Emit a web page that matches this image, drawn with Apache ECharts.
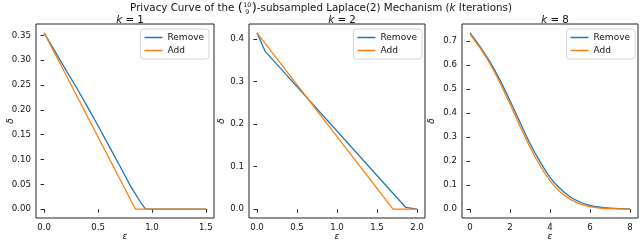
<!DOCTYPE html>
<html><head><meta charset="utf-8">
<script src="https://cdn.jsdelivr.net/npm/echarts@6/dist/echarts.min.js"></script>
<style>html,body{margin:0;padding:0;background:#fff}#c{width:640px;height:243px}</style>
</head><body><div id="c"></div>
<script>
// ---- data ----
const k1X = [0, 0.1, 0.2, 0.3, 0.4, 0.5, 0.6, 0.7, 0.8, 0.9, 0.93, 0.95, 1.5];
const k1Remove = [0.355, 0.318, 0.281, 0.245, 0.207, 0.168, 0.128, 0.088, 0.047, 0.012, 0.003, 0.0, 0.0];
const k1AddX = [0, 0.847, 1.5];
const k1Add = [0.355, 0.0, 0.0];

const k2RemoveX = [0, 0.1, 1.86, 1.885, 2.0];
const k2Remove = [0.415, 0.372, 0.004, 0.0, 0.0];
const k2AddX = [0, 1.7, 2.0];
const k2Add = [0.415, 0.0, 0.0];

const k8X = [0, 0.5, 1, 1.5, 2, 2.5, 3, 3.5, 4, 4.5, 5, 5.5, 6, 6.5, 7, 7.5, 8];
const k8Remove = [0.735, 0.678, 0.614, 0.538, 0.452, 0.362, 0.274, 0.198, 0.133, 0.086, 0.052, 0.030, 0.016, 0.008, 0.004, 0.002, 0.001];
const k8Add = [0.730, 0.672, 0.606, 0.526, 0.438, 0.346, 0.258, 0.182, 0.119, 0.073, 0.042, 0.022, 0.011, 0.005, 0.002, 0.001, 0.0];

const k1XTicks = [0, 0.5, 1.0, 1.5];
const k1YTicks = [0, 0.05, 0.10, 0.15, 0.20, 0.25, 0.30, 0.35];
const k2XTicks = [0, 0.5, 1.0, 1.5, 2.0];
const k2YTicks = [0, 0.1, 0.2, 0.3, 0.4];
const k8XTicks = [0, 2, 4, 6, 8];
const k8YTicks = [0, 0.1, 0.2, 0.3, 0.4, 0.5, 0.6, 0.7];

const panelTitles = ['1', '2', '8'];
const seriesNames = ['Remove', 'Add'];
const titleLeft = 'Privacy Curve of the ';
const binomTop = '10';
const binomBottom = '9';
const titleRight = '-subsampled Laplace(2) Mechanism (';
const titleK = 'k';
const titleEnd = ' Iterations)';

// ---- layout ----
const FONT = 'DejaVu Sans';
const TXT = '#111';
const BLUE = '#1f77b4', ORANGE = '#ff7f0e';
const grids = [
  {left: 36, top: 24, width: 178, height: 194},
  {left: 249, top: 24, width: 176, height: 194},
  {left: 462, top: 24, width: 176, height: 194}
];
const xr = [[-0.075, 1.575], [-0.1, 2.1], [-0.4, 8.4]];
const yr = [[-0.01775, 0.37275], [-0.02075, 0.43575], [-0.03675, 0.77175]];
const xt = [k1XTicks, k2XTicks, k8XTicks];
const yt = [k1YTicks, k2YTicks, k8YTicks];
const xd = [1, 1, 0];
const yd = [2, 1, 1];
const yNameGap = [21, 23, 26];
const legendRight = [431, 218, 5];

const zip = (xs, ys) => xs.map((x, i) => [x, ys[i]]);
const seriesData = [
  [zip(k1X, k1Remove), zip(k1AddX, k1Add)],
  [zip(k2RemoveX, k2Remove), zip(k2AddX, k2Add)],
  [zip(k8X, k8Remove), zip(k8X, k8Add)]
];

const axisCommon = {
  axisLine: {show: false},
  splitLine: {show: false},
  nameMoveOverlap: false,
  axisTick: {show: true, inside: false, length: 3.5, lineStyle: {color: '#222', width: 1}},
  axisLabel: {fontFamily: FONT, fontSize: 8.6, color: TXT}
};

const xAxis = [], yAxis = [], series = [], legend = [], title = [];
for (let i = 0; i < 3; i++) {
  xAxis.push(Object.assign({}, axisCommon, {
    type: 'value', gridIndex: i, min: xr[i][0], max: xr[i][1],
    name: 'ε', nameLocation: 'middle', nameGap: 14,
    nameTextStyle: {fontFamily: FONT, fontSize: 9, fontStyle: 'italic', color: TXT},
    axisTick: Object.assign({}, axisCommon.axisTick, {customValues: xt[i]}),
    axisLabel: Object.assign({}, axisCommon.axisLabel, {customValues: xt[i], margin: 5,
      formatter: (v) => v.toFixed(xd[i])})
  }));
  yAxis.push(Object.assign({}, axisCommon, {
    type: 'value', gridIndex: i, min: yr[i][0], max: yr[i][1],
    name: 'δ', nameLocation: 'middle', nameGap: yNameGap[i], nameRotate: 90,
    nameTextStyle: {fontFamily: FONT, fontSize: 9, fontStyle: 'italic', color: TXT},
    axisTick: Object.assign({}, axisCommon.axisTick, {customValues: yt[i]}),
    axisLabel: Object.assign({}, axisCommon.axisLabel, {customValues: yt[i], margin: 5,
      formatter: (v) => v.toFixed(yd[i])})
  }));
  seriesNames.forEach((nm, j) => {
    series.push({
      type: 'line', name: nm, xAxisIndex: i, yAxisIndex: i,
      data: seriesData[i][j], showSymbol: false, symbol: 'none',
      smooth: i === 2 ? 0.3 : false, animation: false,
      lineStyle: {color: j === 0 ? BLUE : ORANGE, width: 1.3},
      itemStyle: {color: j === 0 ? BLUE : ORANGE},
      z: j === 0 ? 2 : 3
    });
  });
  legend.push({
    data: seriesNames, orient: 'vertical', right: legendRight[i], top: 29,
    icon: 'rect', itemWidth: 18, itemHeight: 1.5, itemGap: 2,
    padding: [3, 5, 3, 4], borderColor: '#d5d5d5', borderWidth: 1, borderRadius: 3,
    backgroundColor: 'rgba(255,255,255,0.85)',
    textStyle: {fontFamily: FONT, fontSize: 9, color: TXT, lineHeight: 11}
  });
  title.push({
    text: '{i|k} = ' + panelTitles[i],
    left: grids[i].left + grids[i].width / 2, top: 10, textAlign: 'center',
    textStyle: {fontFamily: FONT, fontSize: 10.3, fontWeight: 'normal', color: TXT,
      rich: {i: {fontFamily: FONT, fontSize: 10.3, fontStyle: 'italic', color: TXT}}}
  });
}

// main title with binomial coefficient, composed from text pieces
const ctx = document.createElement('canvas').getContext('2d');
const TF = 10.3;
function w(t, style, size) { ctx.font = (style || '') + ' ' + (size || TF) + 'px "' + FONT + '"'; return ctx.measureText(t).width; }
const PF = 13;
const wp = w('(', '', PF);
const binW = 9;
const wl = w(titleLeft), wr = w(titleRight), wk = w(titleK, 'italic'), we = w(titleEnd);
const total = wl + wp + binW + wp + wr + wk + we;
let x0 = 321 - total / 2;
const cy = 8.5;
const tstyle = {fontFamily: FONT, fontSize: TF, fill: TXT};
function T(x, t, extra) { return {type: 'text', x: x, y: cy, style: Object.assign({}, tstyle, {text: t, textVerticalAlign: 'middle'}, extra || {})}; }
let x = x0;
const graphic = [];
graphic.push(T(x, titleLeft)); x += wl;
graphic.push(T(x, '(', {fontSize: PF})); x += wp;
graphic.push({type: 'text', x: x + binW / 2, y: cy - 3.2, style: Object.assign({}, tstyle, {text: binomTop, fontSize: 6.3, textAlign: 'center', textVerticalAlign: 'middle'})});
graphic.push({type: 'text', x: x + binW / 2, y: cy + 3.6, style: Object.assign({}, tstyle, {text: binomBottom, fontSize: 6.3, textAlign: 'center', textVerticalAlign: 'middle'})});
x += binW;
graphic.push(T(x, ')', {fontSize: PF})); x += wp;
graphic.push(T(x, titleRight)); x += wr;
graphic.push(T(x, titleK, {fontStyle: 'italic'})); x += wk;
graphic.push(T(x, titleEnd));

const chart = echarts.init(document.getElementById('c'), null, {renderer: 'canvas'});
chart.setOption({
  animation: false,
  backgroundColor: '#fff',
  title: title,
  legend: legend,
  graphic: graphic,
  grid: grids.map(g => Object.assign({show: true, borderColor: '#222', borderWidth: 1, backgroundColor: 'transparent', containLabel: false, outerBoundsMode: 'none'}, g)),
  xAxis: xAxis, yAxis: yAxis, series: series
});
</script></body></html>
